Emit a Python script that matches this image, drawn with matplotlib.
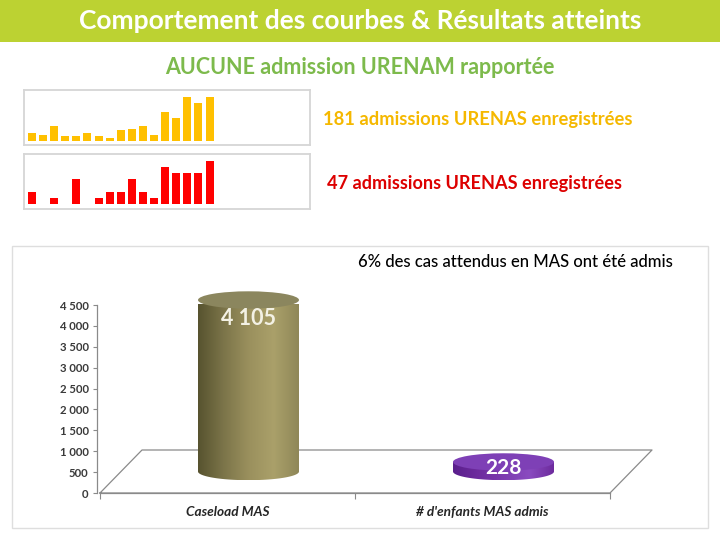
import numpy as np
import matplotlib
matplotlib.use("Agg")
import matplotlib.pyplot as plt
from matplotlib.patches import Rectangle, Ellipse, Polygon
from matplotlib.colors import LinearSegmentedColormap
from matplotlib.ticker import FuncFormatter, FixedLocator

# ---------------- data ----------------
urenas_yellow = [5, 4, 10, 3, 3, 5, 3, 2, 7, 8, 10, 4, 19, 15, 29, 25, 29]
urenas_red = [2, 0, 1, 0, 4, 0, 1, 2, 2, 4, 2, 1, 6, 5, 5, 5, 7]
categories = ["Caseload MAS", "# d'enfants MAS admis"]
values = [4105, 228]
value_labels = ["4 105", "228"]
yticks = [0, 500, 1000, 1500, 2000, 2500, 3000, 3500, 4000, 4500]

title = "Comportement des courbes & Résultats atteints"
subtitle = "AUCUNE admission URENAM rapportée"
txt_yellow = "181 admissions URENAS enregistrées"
txt_red = "47 admissions URENAS enregistrées"
chart_title = "6% des cas attendus en MAS ont été admis"

plt.rcParams['font.family'] = ['Lato', 'DejaVu Sans']

W, H = 720, 540
fig = plt.figure(figsize=(7.2, 5.4), dpi=100)
fig.patch.set_facecolor('white')

def fx(px):
    return px / W

def fy(py):
    return 1 - py / H

# title bar
fig.patches.append(Rectangle((0, fy(42)), 1, 42 / H, transform=fig.transFigure,
                             facecolor='#bcd232', edgecolor='none', zorder=-2))
fig.text(0.5, fy(21), title, color='white', fontsize=19, fontweight='bold',
         ha='center', va='center')
fig.text(fx(360), fy(67), subtitle, color='#7dba4c', fontsize=15.5, fontweight='bold',
         ha='center', va='center')

# sparklines
def spark(box, vals, color, ylim):
    x0, y0, x1, y1 = box
    ax = fig.add_axes([fx(x0), fy(y1), (x1 - x0) / W, (y1 - y0) / H])
    ax.bar(np.arange(len(vals)), vals, width=0.72, color=color)
    ax.set_xlim(-0.72, 25.05)
    ax.set_ylim(*ylim)
    ax.set_xticks([]); ax.set_yticks([])
    for s in ax.spines.values():
        s.set_color('#d6d6d6'); s.set_linewidth(1.3)
    return ax

spark((24, 90, 310, 145), urenas_yellow, '#ffc000', (-2.6, 33.6))
spark((24, 154, 310, 209), urenas_red, '#ff0000', (-0.8, 8.08))

fig.text(fx(323), fy(120), txt_yellow, color='#f5b800', fontsize=13.2, fontweight='bold',
         ha='left', va='center')
fig.text(fx(327), fy(183), txt_red, color='#dd0000', fontsize=13.1, fontweight='bold',
         ha='left', va='center')

# chart panel
fig.patches.append(Rectangle((fx(12), fy(528)), 696 / W, 282 / H, transform=fig.transFigure,
                             facecolor='white', edgecolor='#dedede', linewidth=1.0, zorder=-1))
fig.text(fx(515), fy(262), chart_title, color='black', fontsize=12, fontweight='medium',
         ha='center', va='center')

# cylinder chart axes
px_per_unit = 255.0
xleft = -3 / px_per_unit
xright = 2.312
ax = fig.add_axes([fx(97), fy(493), (xright - xleft) * px_per_unit / W, 188 / H])
ax.set_xlim(xleft, xright)
ax.set_ylim(0, 4500)
ax.patch.set_alpha(0)
vpx = 188 / 4500.0
dx = 42 / px_per_unit
dy = 43 / vpx

for s in ['top', 'right']:
    ax.spines[s].set_visible(False)
ax.spines['left'].set_bounds(0, 4500)
ax.spines['bottom'].set_bounds(0, 2)
for s in ['left', 'bottom']:
    ax.spines[s].set_color('#8a8a8a'); ax.spines[s].set_linewidth(0.9)

ax.yaxis.set_major_locator(FixedLocator(yticks))
ax.yaxis.set_major_formatter(FuncFormatter(lambda v, p: f"{int(v):,}".replace(",", " ")))
ax.tick_params(axis='y', length=3, color='#8a8a8a', labelsize=8.2, labelcolor='#3a3a3a', pad=3)
for t in ax.get_yticklabels():
    t.set_fontweight('bold')
ax.set_xticks([0, 1, 2])
ax.set_xticklabels([])
ax.set_xticks([0.5, 1.5], minor=True)
ax.set_xticklabels(categories, minor=True, fontsize=9.8, fontweight='bold', style='italic',
                   color='#262626')
ax.tick_params(axis='x', which='major', length=4, color='#8a8a8a', direction='out')
ax.tick_params(axis='x', which='minor', length=0, pad=9)

# floor outline
floor = [(0, 0), (2, 0), (2 + dx, dy), (dx, dy), (0, 0)]
fxs, fys = zip(*floor)
ax.plot(fxs, fys, color='#8a8a8a', lw=0.9, clip_on=False, zorder=1)

olive = LinearSegmentedColormap.from_list('olive', ['#57532f', '#7b7449', '#9a905d', '#aaa06a', '#8f8758'],)
purple = LinearSegmentedColormap.from_list('purple', ['#5a1f8c', '#6e2c9e', '#7d3bb0', '#8a4bc0', '#6c2a9c'])
top_colors = ['#8b865e', '#7e40b6']
label_colors = ['#f3f1e4', 'white']
label_sizes = [15.5, 15]
label_offsets_px = [18, 6]

r = 50.5 / px_per_unit
b = 8.7 / vpx
base = dy / 2
grad = np.linspace(0, 1, 256).reshape(1, -1)
for i, (v, cmap) in enumerate(zip(values, [olive, purple])):
    cx = i + 0.5 + dx / 2
    top = base + v
    t = np.linspace(np.pi, 2 * np.pi, 80)
    pts = list(zip(cx + r * np.cos(t), base + b * np.sin(t)))
    pts += [(cx + r, top), (cx - r, top)]
    body = Polygon(pts, closed=True, facecolor='none', edgecolor='none',
                   transform=ax.transData)
    ax.add_patch(body)
    im = ax.imshow(grad, cmap=cmap, aspect='auto',
                   extent=(cx - r, cx + r, base - b, top), zorder=3)
    im.set_clip_path(body)
    im.set_clip_box(None)
    im.set_clip_on(True)
    ax.add_patch(Ellipse((cx, top), 2 * r, 2 * b, facecolor=top_colors[i],
                         edgecolor='none', zorder=4, clip_on=False))
    ax.text(cx, top - label_offsets_px[i] / vpx, value_labels[i], color=label_colors[i],
            fontsize=label_sizes[i], fontweight='bold', ha='center', va='center',
            zorder=5, clip_on=False)

ax.set_xlim(xleft, xright)
ax.set_ylim(0, 4500)

fig.savefig('out.png', dpi=100)
